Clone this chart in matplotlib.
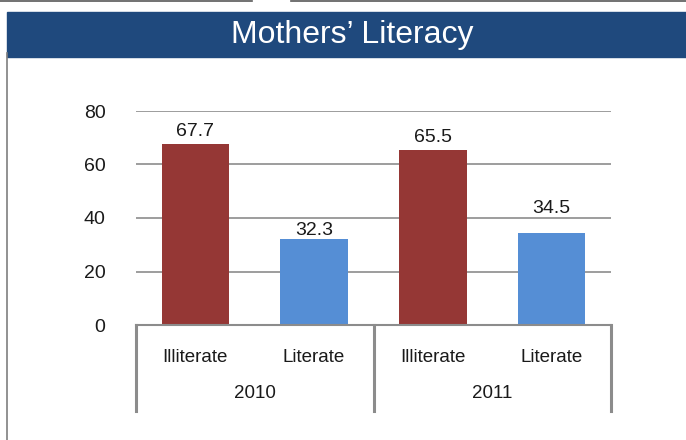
import matplotlib
matplotlib.use("Agg")
import matplotlib.pyplot as plt
from matplotlib.patches import Rectangle
from matplotlib.lines import Line2D

plt.rcParams["font.family"] = ["Liberation Sans", "DejaVu Sans"]

# data
years = ["2010", "2011"]
groups = ["Illiterate", "Literate"]
values_2010 = [67.7, 32.3]
values_2011 = [65.5, 34.5]
y_ticks = [0, 20, 40, 60, 80]

# label offsets (points) above each bar, as they sit in the original
label_pad = [3, 0, 3, 11]

RED = "#953735"
BLUE = "#558ED5"
BAND = "#1F497D"
GRID = "#8C8C8C"

W, H = 686, 440
fig = plt.figure(figsize=(W / 100, H / 100), dpi=100)

# header band + frame lines
fig.patches.append(Rectangle((7 / W, 1 - 57 / H), 1 - 7 / W, 45 / H,
                             transform=fig.transFigure, color=BAND, zorder=0))
fig.text(352 / W, 1 - 34.5 / H, "Mothers’ Literacy", color="white",
         fontsize=23, ha="center", va="center")
fig.lines.append(Line2D([6.5 / W, 6.5 / W], [1 - 53 / H, 0], transform=fig.transFigure,
                        color="#7F7F7F", lw=1.2))
fig.lines.append(Line2D([0, 252 / W], [1 - 1 / H, 1 - 1 / H], transform=fig.transFigure,
                        color="#595959", lw=1.2))
fig.lines.append(Line2D([291 / W, 1], [1 - 1 / H, 1 - 1 / H], transform=fig.transFigure,
                        color="#595959", lw=1.2))

ax = fig.add_axes([136 / W, (H - 325) / H, 475 / W, 214 / H])

values = values_2010 + values_2011
colors = [RED, BLUE] * len(years)
x = list(range(len(values)))
bars = ax.bar(x, values, width=0.57, color=colors, zorder=3)

for b, v, pad in zip(bars, values, label_pad):
    ax.annotate(f"{v:.1f}", (b.get_x() + b.get_width() / 2, v),
                xytext=(0, pad), textcoords="offset points",
                ha="center", va="bottom", fontsize=14, color="#1A1A1A")

ax.set_xlim(-0.5, len(values) - 0.5)
ax.set_ylim(0, 80)
ax.set_yticks(y_ticks)
ax.set_yticklabels([str(t) for t in y_ticks], fontsize=14, color="#1A1A1A")
ax.tick_params(axis="y", length=0, pad=22)
ax.tick_params(axis="x", length=0, labelbottom=False)
ax.yaxis.grid(True, color=GRID, lw=1.2, zorder=0)
for s in ["top", "right", "left"]:
    ax.spines[s].set_visible(False)
ax.spines["bottom"].set_color(GRID)
ax.spines["bottom"].set_linewidth(1.5)
ax.spines["bottom"].set_zorder(4)

# two-level category axis
tr = ax.get_xaxis_transform()
low = -0.4
for xs in [-0.5, 1.5, 3.5]:
    ax.plot([xs, xs], [0, low], transform=tr, color=GRID, lw=2.2, clip_on=False)
for i, xi in enumerate(x):
    ax.text(xi, -0.15, groups[i % len(groups)], transform=tr, ha="center", va="center",
            fontsize=13.5, color="#1A1A1A")
for j, yr in enumerate(years):
    ax.text(j * 2 + 0.5, -0.32, yr, transform=tr, ha="center", va="center",
            fontsize=13.5, color="#1A1A1A")

fig.savefig("out.png", dpi=100)
